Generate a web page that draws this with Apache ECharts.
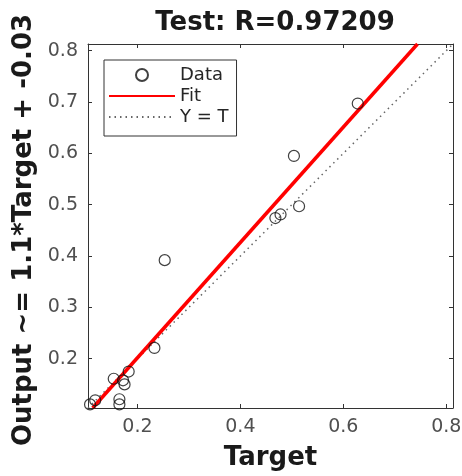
<!DOCTYPE html>
<html>
<head>
<meta charset="utf-8">
<script src="https://cdn.jsdelivr.net/npm/echarts@6/dist/echarts.min.js"></script>
<style>
  html, body { margin: 0; padding: 0; background: #fff; }
  #chart { width: 462px; height: 476px; }
</style>
</head>
<body>
<div id="chart"></div>
<script>
// test set: target vs network output
var targets = [0.628, 0.504, 0.514, 0.468, 0.478, 0.253, 0.233, 0.183, 0.154, 0.175, 0.172, 0.165, 0.165, 0.108, 0.118];
var outputs = [0.697, 0.595, 0.497, 0.474, 0.481, 0.392, 0.221, 0.175, 0.161, 0.150, 0.158, 0.121, 0.111, 0.111, 0.119];

// fit line and Y = T, endpoints read where they meet the box
var fitLine = [[0.113, 0.104], [0.744, 0.813]];
var idLine = [[0.104, 0.104], [0.813, 0.813]];

var axisMin = 0.104;
var axisMax = 0.813;
var xTicks = [0.2, 0.4, 0.6, 0.8];
var yTicks = [0.2, 0.3, 0.4, 0.5, 0.6, 0.7, 0.8];

var font = 'DejaVu Sans';

var points = [];
for (var i = 0; i < targets.length; i++) {
    points.push([targets[i], outputs[i]]);
}

function makeAxis(pos, ticks, showLabel) {
    return {
        type: 'value',
        position: pos,
        min: axisMin,
        max: axisMax,
        axisLine: { show: true, onZero: false, lineStyle: { color: '#333', width: 1 } },
        axisTick: { show: true, inside: true, length: 4, customValues: ticks, lineStyle: { color: '#333' } },
        axisLabel: {
            show: showLabel,
            customValues: ticks,
            color: '#505050',
            fontFamily: font,
            fontSize: 19,
            margin: 10,
            formatter: function (v) { return v.toFixed(1); }
        },
        splitLine: { show: false }
    };
}

var myChart = echarts.init(document.getElementById('chart'));

var xBottom = makeAxis('bottom', xTicks, true);
xBottom.name = 'Target';
xBottom.nameLocation = 'middle';
xBottom.nameGap = 37;
xBottom.nameTextStyle = { fontFamily: font, fontWeight: 'bold', fontSize: 26, color: '#1a1a1a' };

var yLeft = makeAxis('left', yTicks, true);
yLeft.name = 'Output ~= 1.1*Target + -0.03';
yLeft.nameLocation = 'middle';
yLeft.nameGap = 47;
yLeft.nameTextStyle = { fontFamily: font, fontWeight: 'bold', fontSize: 26, color: '#1a1a1a', padding: [0, 8, 0, 0] };

// hide the round marker ECharts puts on line legend icons
var noMarker = { color: 'rgba(0,0,0,0)', borderWidth: 0 };

myChart.setOption({
    backgroundColor: '#fff',
    animation: false,
    title: {
        text: 'Test: R=0.97209',
        left: 270,
        textAlign: 'center',
        top: 5,
        textStyle: { fontFamily: font, fontWeight: 'bold', fontSize: 26, color: '#1a1a1a' }
    },
    grid: { left: 88, right: 9, top: 44, bottom: 68, show: false, outerBoundsMode: 'none' },
    legend: {
        orient: 'vertical',
        left: 104,
        top: 60,
        padding: [6, 8, 10, 4],
        itemGap: 3,
        itemWidth: 66,
        itemHeight: 12,
        borderColor: '#333',
        borderWidth: 1,
        backgroundColor: '#fff',
        textStyle: { fontFamily: font, fontSize: 18, color: '#262626' },
        data: [
            { name: 'Data' },
            { name: 'Fit', itemStyle: noMarker },
            { name: 'Y = T', itemStyle: noMarker }
        ]
    },
    xAxis: [xBottom, makeAxis('top', xTicks, false)],
    yAxis: [yLeft, makeAxis('right', yTicks, false)],
    series: [
        {
            name: 'Y = T',
            type: 'line',
            data: idLine,
            symbol: 'none',
            clip: true,
            lineStyle: { color: '#666', width: 1.5, type: [1.5, 4] },
            itemStyle: { color: '#666' }
        },
        {
            name: 'Fit',
            type: 'line',
            data: fitLine,
            symbol: 'none',
            clip: true,
            lineStyle: { color: '#f00', width: 3.5 },
            itemStyle: { color: '#f00' }
        },
        {
            name: 'Data',
            type: 'scatter',
            data: points,
            symbol: 'circle',
            symbolSize: 11,
            z: 5,
            itemStyle: { color: 'rgba(0,0,0,0)', borderColor: '#111', borderWidth: 1.2 }
        }
    ]
});
</script>
</body>
</html>
